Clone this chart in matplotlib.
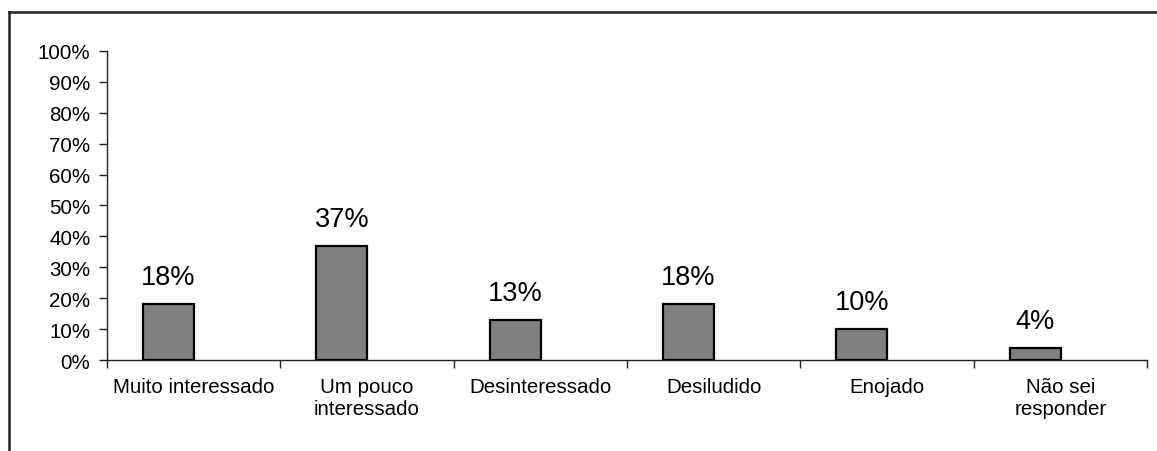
import matplotlib
matplotlib.use("Agg")
import matplotlib.pyplot as plt
from matplotlib.lines import Line2D
import numpy as np

plt.rcParams['font.family'] = ['Liberation Sans', 'DejaVu Sans']

categorias = ["Muito interessado", "Um pouco\ninteressado", "Desinteressado",
              "Desiludido", "Enojado", "Não sei\nresponder"]
valores = [18, 37, 13, 18, 10, 4]
rotulos = ["18%", "37%", "13%", "18%", "10%", "4%"]

fig = plt.figure(figsize=(11.57, 4.52), dpi=100)
ax = fig.add_axes([0.0925, 0.2013, 0.8989, 0.6837])

x = np.arange(len(categorias))
bars = ax.bar(x - 0.145, valores, width=0.295, color="#808080",
              edgecolor="black", linewidth=1.6, zorder=3)
for b, r in zip(bars, rotulos):
    ax.text(b.get_x() + b.get_width() / 2, b.get_height() + 4.5, r,
            ha="center", va="bottom", fontsize=19.5)

ax.set_xlim(-0.5, len(categorias) - 0.5)
ax.set_ylim(0, 100)
ax.set_yticks(range(0, 101, 10))
ax.set_yticklabels([f"{v}%" for v in range(0, 101, 10)], fontsize=14.8)
ax.set_xticks(np.arange(-0.5, len(categorias), 1.0))
ax.set_xticklabels([])
ax.set_xticks(x, minor=True)
ax.set_xticklabels(categorias, minor=True, fontsize=14.8, linespacing=1.25)
ax.tick_params(axis="x", which="minor", length=0, pad=12)
ax.tick_params(axis="x", which="major", length=6, width=1, color="#222222")
ax.tick_params(axis="y", length=6, width=1, color="#222222", pad=6)

for s in ["top", "right"]:
    ax.spines[s].set_visible(False)
for s in ["left", "bottom"]:
    ax.spines[s].set_linewidth(1)
    ax.spines[s].set_color("#222222")

# moldura externa (cortada em baixo e a direita)
fig.add_artist(Line2D([0.0078, 1.0], [0.971, 0.971], color="#222222", lw=1.8))
fig.add_artist(Line2D([0.0078, 0.0078], [0.0, 0.971], color="#222222", lw=1.8))

fig.savefig("out.png", dpi=100)
